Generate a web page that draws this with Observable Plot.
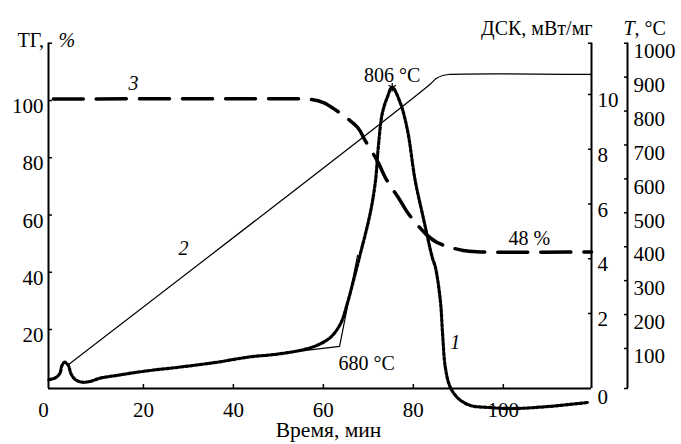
<!DOCTYPE html>
<html><head><meta charset="utf-8">
<script src="https://cdn.jsdelivr.net/npm/d3@7"></script>
<script src="https://cdn.jsdelivr.net/npm/@observablehq/plot@0.6"></script>
<style>html,body{margin:0;padding:0;background:#fff}svg{display:block}</style>
</head><body><div id="chart"></div>
<script>
// ---- axis ticks ----
const timeTicks = [20, 40, 60, 80, 100];
const tgTicks = [20, 40, 60, 80, 100];
const dscTicks = [2, 4, 6, 8, 10];
const tTicks = [100, 200, 300, 400, 500, 600, 700, 800, 900, 1000];

// ---- axis extents ----
const timeDomain = [-1.1, 119.6];
const tgDomain = [-0.6, 120];
const dscDomain = [-0.74, 11.87];
const tDomain = [-18, 1000];

// ---- curve 1: DSC, mW/mg ----
const dscTime = [-1.0, 0.4, 1.4, 1.9, 2.5, 3.3, 3.9, 4.9, 6.4, 8.2, 10.4, 14.2, 20.1, 29.0, 36.4, 43.0, 50.4, 56.4, 59.3, 61.6, 63.8, 65.3, 66.7, 67.9, 70.4, 71.6, 72.2, 73.1, 74.2, 75.3, 77.1, 78.7, 80.4, 82.0, 84.2, 84.9, 86.0, 86.5, 87.1, 88.2, 90.1, 92.7, 96.4, 102.2, 109.8, 118.7];
const dscValue = [-0.42, -0.35, -0.20, 0.10, 0.22, 0.10, -0.20, -0.42, -0.51, -0.48, -0.36, -0.26, -0.11, 0.06, 0.22, 0.40, 0.53, 0.71, 0.89, 1.13, 1.62, 2.35, 3.21, 3.98, 5.65, 6.86, 8.06, 9.31, 9.89, 10.26, 9.69, 8.69, 6.86, 5.65, 4.05, 3.69, 2.47, 1.26, 0.04, -0.69, -1.12, -1.36, -1.43, -1.47, -1.40, -1.25];

// ---- curve 2: temperature, °C ----
const tTime = [3.1, 83.8, 85.0, 86.5, 88.0, 119.6];
const tValue = [50, 880, 895, 905, 908, 908];

// ---- curve 3: TG, % ----
const tgTime = [0, 52.7, 57.1, 60.0, 62.9, 67.6, 69.3, 72.2, 73.8, 77.1, 78.7, 82.7, 85.3, 91.1, 94.9, 119.6];
const tgValue = [100.5, 100.6, 100.4, 99.3, 96.5, 90.6, 86.0, 78.3, 73.0, 65.0, 60.9, 53.5, 50.4, 47.6, 47.1, 47.1];

// ---- onset tangents (DSC) ----
const tangentTime = [45.0, 63.6, 67.6];
const tangentDsc = [0.43, 0.80, 4.12];

// ---- secondary axes mapped into the primary (TG) scale ----
const dscToY = d3.scaleLinear().domain(dscDomain).range(tgDomain);
const tToY = d3.scaleLinear().domain(tDomain).range(tgDomain);

const dscData = dscTime.map((t, i) => ({t, y: dscToY(dscValue[i])}));
const tData = tTime.map((t, i) => ({t, y: tToY(tValue[i])}));
const tgData = tgTime.map((t, i) => ({t, y: tgValue[i]}));
const tangentData = tangentTime.map((t, i) => ({t, y: dscToY(tangentDsc[i])}));
const peakIndex = dscValue.indexOf(d3.max(dscValue));
const peak = dscData[peakIndex];
const onset = tangentData[1];

const xMin = timeDomain[0], xMax = timeDomain[1], yMin = tgDomain[0];
const blank = () => "";
const T = {fontFamily: "Liberation Serif", fontSize: 20};

const chart = Plot.plot({
  width: 681, height: 444,
  marginLeft: 48, marginRight: 90, marginTop: 42.75, marginBottom: 56,
  x: {domain: timeDomain},
  y: {domain: tgDomain},
  style: {fontFamily: "Liberation Serif", fontSize: "20px", color: "#000", background: "#fff"},
  marks: [
    // axis lines
    Plot.ruleX([xMin], {stroke: "#000", strokeWidth: 2}),
    Plot.ruleY([yMin], {stroke: "#000", strokeWidth: 2}),
    Plot.ruleX([xMax], {stroke: "#000", strokeWidth: 2}),
    Plot.ruleX([xMax], {stroke: "#000", strokeWidth: 2, dx: 36}),
    // tick marks (inward)
    Plot.axisY([...tgTicks, tgDomain[1]], {anchor: "left", tickSize: 4, dx: 4, tickFormat: blank, strokeWidth: 1.5, label: null}),
    Plot.axisY([...dscTicks, dscDomain[1]].map(dscToY), {anchor: "right", tickSize: 4, dx: -4, tickFormat: blank, strokeWidth: 1.5, label: null}),
    Plot.axisY([...tTicks, tDomain[0]].map(tToY), {anchor: "right", tickSize: 4, dx: 32, tickFormat: blank, strokeWidth: 1.5, label: null}),
    Plot.axisX(timeTicks, {anchor: "bottom", tickSize: 4, dy: -4, tickFormat: blank, strokeWidth: 1.5, label: null}),
    // tick labels
    Plot.text(tgTicks, {...T, fontSize: 21, x: xMin, y: d => d, text: d => String(d), textAnchor: "end", dx: -5, dy: 6}),
    Plot.text(dscTicks, {...T, fontSize: 21, x: xMax, y: d => dscToY(d), text: d => String(d), textAnchor: "start", dx: 6, dy: 6}),
    Plot.text(["0"], {...T, fontSize: 21, x: xMax, y: yMin, text: d => d, textAnchor: "start", dx: 6, dy: 9}),
    Plot.text(tTicks, {...T, fontSize: 21, x: xMax, y: d => tToY(d), text: d => String(d), textAnchor: "start", dx: 42, dy: 8}),
    Plot.text(timeTicks, {...T, fontSize: 21, x: d => d, y: yMin, text: d => String(d), dy: 22}),
    Plot.text(["0"], {...T, fontSize: 21, x: xMin, y: yMin, text: d => d, dx: -5, dy: 22}),
    // axis titles
    Plot.text(["ТГ,"], {...T, frameAnchor: "top-left", text: d => d, textAnchor: "start", dx: -31, dy: -10}),
    Plot.text(["%"], {...T, frameAnchor: "top-left", text: d => d, textAnchor: "start", dx: 10, dy: -10, fontStyle: "italic"}),
    Plot.text(["ДСК, мВт/мг"], {...T, frameAnchor: "top-right", text: d => d, textAnchor: "end", dx: 1, dy: -22}),
    Plot.text(["T"], {...T, frameAnchor: "top-right", text: d => d, textAnchor: "start", dx: 32, dy: -22, fontStyle: "italic"}),
    Plot.text([", °C"], {...T, frameAnchor: "top-right", text: d => d, textAnchor: "start", dx: 43, dy: -22}),
    Plot.text(["Время, мин"], {...T, fontSize: 21.5, frameAnchor: "bottom", text: d => d, dx: 8.5, dy: 48.5}),
    // curves
    Plot.line(tData, {x: "t", y: "y", stroke: "#000", strokeWidth: 1.2, curve: "catmull-rom"}),
    Plot.line(tangentData, {x: "t", y: "y", stroke: "#000", strokeWidth: 1.2}),
    Plot.line(tgData, {x: "t", y: "y", stroke: "#000", strokeWidth: 3.5, strokeDasharray: "30,13", curve: "catmull-rom"}),
    Plot.line(dscData, {x: "t", y: "y", stroke: "#000", strokeWidth: 3.2, strokeDasharray: "2.8,2", curve: "catmull-rom"}),
    Plot.dot([peak], {x: "t", y: "y", symbol: "asterisk", r: 4, stroke: "#000", strokeWidth: 1.3}),
    // annotations
    Plot.text([peak], {...T, x: "t", y: "y", text: () => "806 °C", dy: -12}),
    Plot.text([onset], {...T, x: "t", y: "y", text: () => "680 °C", textAnchor: "start", dx: -1, dy: 17}),
    Plot.text([{t: 105.8, y: 47.1}], {...T, x: "t", y: "y", text: () => "48 %", dy: -13}),
    Plot.text([{t: 89.3, y: dscToY(0.94)}], {...T, x: "t", y: "y", text: () => "1", fontStyle: "italic"}),
    Plot.text([{t: 28.9, y: tToY(394)}], {...T, x: "t", y: "y", text: () => "2", fontStyle: "italic"}),
    Plot.text([{t: 17.8, y: 105.9}], {...T, x: "t", y: "y", text: () => "3", fontStyle: "italic"})
  ]
});
document.getElementById("chart").appendChild(chart);
</script>
</body></html>
